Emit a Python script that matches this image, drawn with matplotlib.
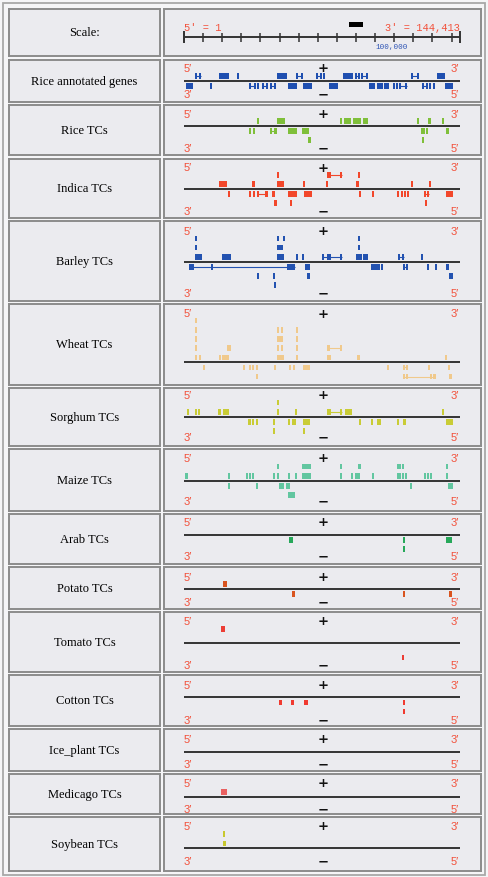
import matplotlib
matplotlib.use("Agg")
import matplotlib.pyplot as plt
from matplotlib.patches import Rectangle
import numpy as np

# genome span (kb) and scale
genome_kb = 144.413
scale_ticks = np.arange(0, 150, 10)
scale_bar = (86.3, 93.8)

# feature lists: (strand level, start kb, end kb); links are intron lines
rice_genes = [
    (1, 5.8, 6.4), (1, 8.0, 8.7), (1, 18.1, 23.7), (1, 27.6, 28.3), (1, 48.8, 54.1),
    (1, 58.6, 59.2), (1, 61.0, 61.6), (1, 68.9, 69.4), (1, 71.0, 71.5), (1, 72.6, 73.1),
    (1, 83.4, 88.6), (1, 89.3, 90.0), (1, 91.2, 91.7), (1, 92.8, 93.5), (1, 95.0, 95.7),
    (1, 118.6, 119.3), (1, 121.9, 122.6), (1, 132.5, 136.7),
    (-1, 1.0, 4.9), (-1, 13.6, 14.1), (-1, 34.2, 34.9), (-1, 36.6, 37.3), (-1, 38.4, 39.1),
    (-1, 40.8, 41.5), (-1, 42.9, 43.4), (-1, 45.0, 45.5), (-1, 47.1, 47.8), (-1, 54.6, 58.9),
    (-1, 62.4, 66.8), (-1, 76.0, 80.7), (-1, 96.8, 99.9), (-1, 100.8, 103.9), (-1, 104.6, 107.1),
    (-1, 109.5, 110.0), (-1, 110.9, 111.4), (-1, 112.7, 113.4), (-1, 115.6, 116.5),
    (-1, 124.3, 125.0), (-1, 126.4, 127.1), (-1, 128.4, 129.1), (-1, 130.1, 131.1), (-1, 136.6, 140.6),
]
rice_genes_links = [
    (1, 5.8, 8.7), (1, 58.6, 61.6), (1, 68.9, 71.5), (1, 89.3, 91.7), (1, 92.8, 95.7),
    (1, 118.6, 122.6), (-1, 34.2, 37.3), (-1, 40.8, 43.4), (-1, 45.0, 47.8),
    (-1, 112.7, 116.5), (-1, 124.3, 127.1),
]

rice_tcs = [
    (1, 38.0, 38.7), (1, 48.8, 52.7), (1, 81.6, 82.5), (1, 83.9, 87.2), (1, 88.6, 92.6),
    (1, 93.5, 96.4), (1, 121.7, 122.4), (1, 127.8, 129.2), (1, 134.8, 135.5),
    (-1, 34.0, 34.7), (-1, 36.3, 37.0), (-1, 45.0, 45.7), (-1, 47.3, 48.0), (-1, 54.4, 58.9),
    (-1, 61.6, 65.4), (-1, 123.8, 124.5), (-1, 125.2, 125.9), (-1, 126.8, 127.5), (-1, 136.9, 138.5),
    (-2, 64.7, 66.3), (-2, 124.3, 125.0),
]
rice_tcs_links = [(-1, 45.0, 48.0)]

indica_tcs = [
    (2, 48.5, 49.2), (2, 74.6, 76.7), (2, 81.6, 82.5), (2, 90.9, 92.1),
    (1, 18.1, 22.3), (1, 35.8, 36.4), (1, 48.5, 52.5), (1, 62.1, 62.8), (1, 74.1, 74.8),
    (1, 90.0, 91.4), (1, 118.6, 119.3), (1, 128.4, 129.1),
    (-1, 23.0, 23.7), (-1, 34.0, 34.7), (-1, 35.9, 37.0), (-1, 38.4, 39.1), (-1, 42.6, 43.3),
    (-1, 45.9, 47.6), (-1, 54.6, 58.9), (-1, 62.8, 67.0), (-1, 91.6, 92.3), (-1, 98.4, 99.4),
    (-1, 111.6, 112.3), (-1, 113.4, 114.1), (-1, 115.1, 115.8), (-1, 116.5, 117.2),
    (-1, 125.6, 126.3), (-1, 127.3, 128.0), (-1, 136.9, 140.9),
    (-2, 47.3, 48.0), (-2, 55.5, 56.2), (-2, 126.3, 127.0),
]
indica_tcs_links = [(2, 74.6, 82.5), (-1, 38.4, 43.3), (-1, 125.6, 128.0)]

barley_tcs = [
    (3, 5.8, 6.5), (3, 48.5, 49.2), (3, 51.6, 52.3), (3, 91.2, 91.9),
    (2, 5.8, 6.5), (2, 48.5, 52.0), (2, 91.2, 91.9),
    (1, 5.8, 9.2), (1, 19.9, 24.6), (1, 48.5, 52.3), (1, 58.4, 59.1), (1, 61.9, 62.6),
    (1, 72.4, 73.1), (1, 75.0, 76.7), (1, 81.6, 82.5), (1, 89.8, 93.0), (1, 93.8, 96.4),
    (1, 112.0, 112.7), (1, 114.1, 114.9), (1, 124.2, 124.9),
    (-1, 2.4, 5.4), (-1, 14.0, 14.6), (-1, 53.7, 58.1), (-1, 63.3, 65.9), (-1, 97.8, 102.5),
    (-1, 103.1, 103.6), (-1, 114.4, 115.1), (-1, 116.2, 116.8), (-1, 127.0, 127.7),
    (-1, 131.5, 132.2), (-1, 136.9, 138.5),
    (-2, 38.0, 38.7), (-2, 46.7, 47.4), (-2, 64.2, 65.9), (-2, 138.5, 140.9),
    (-3, 47.1, 47.8),
]
barley_tcs_links = [(1, 72.4, 82.5), (1, 112.0, 114.9), (-1, 2.4, 58.1), (-1, 114.4, 116.8)]

wheat_tcs = [
    (5, 5.9, 6.5),
    (4, 5.9, 6.5), (4, 48.8, 49.5), (4, 50.8, 51.6), (4, 58.8, 59.3),
    (3, 5.9, 6.5), (3, 48.8, 52.0), (3, 58.8, 59.3),
    (2, 5.9, 6.5), (2, 22.3, 24.8), (2, 48.8, 49.5), (2, 50.9, 52.0), (2, 58.8, 59.3),
    (2, 75.0, 76.4), (2, 81.6, 82.3),
    (1, 5.9, 6.5), (1, 8.0, 8.7), (1, 18.1, 18.8), (1, 19.9, 23.5), (1, 48.8, 52.3),
    (1, 58.8, 59.6), (1, 75.0, 76.7), (1, 90.3, 92.1), (1, 136.6, 137.1),
    (-1, 10.1, 10.8), (-1, 31.0, 31.7), (-1, 33.8, 34.5), (-1, 35.6, 36.3), (-1, 37.5, 38.2),
    (-1, 47.1, 47.8), (-1, 54.8, 55.5), (-1, 56.9, 58.1), (-1, 62.4, 65.9), (-1, 106.0, 106.7),
    (-1, 114.4, 115.1), (-1, 116.2, 116.8), (-1, 127.5, 128.2), (-1, 138.3, 139.0),
    (-2, 37.8, 38.5), (-2, 114.4, 115.1), (-2, 116.2, 116.8), (-2, 128.7, 129.4),
    (-2, 130.5, 131.1), (-2, 138.5, 140.0),
]
wheat_tcs_links = [(2, 75.0, 82.3), (-1, 114.4, 116.8), (-2, 114.4, 131.1)]

sorghum_tcs = [
    (2, 48.5, 49.0),
    (1, 1.7, 2.3), (1, 5.6, 6.1), (1, 7.5, 8.2), (1, 18.0, 18.7), (1, 20.6, 23.4),
    (1, 48.5, 49.0), (1, 58.2, 58.8), (1, 74.6, 76.7), (1, 81.6, 82.5), (1, 84.2, 87.7),
    (1, 135.0, 135.7),
    (-1, 33.7, 34.5), (-1, 35.6, 36.4), (-1, 37.5, 38.5), (-1, 46.7, 47.3), (-1, 54.4, 55.1),
    (-1, 56.3, 58.4), (-1, 62.4, 65.9), (-1, 91.4, 92.1), (-1, 97.8, 99.1), (-1, 101.2, 102.9),
    (-1, 111.3, 112.1), (-1, 114.8, 116.2), (-1, 137.1, 140.6),
    (-2, 46.4, 47.1), (-2, 62.4, 63.1),
]
sorghum_tcs_links = [(1, 74.6, 82.5)]

maize_tcs = [
    (2, 48.5, 49.0), (2, 61.6, 66.3), (2, 81.6, 82.1), (2, 91.0, 92.4), (2, 111.3, 111.8),
    (2, 112.7, 113.2), (2, 114.2, 114.9), (2, 136.9, 137.4),
    (1, 0.5, 2.3), (1, 22.8, 23.4), (1, 32.4, 33.1), (1, 34.0, 34.7), (1, 35.6, 36.3),
    (1, 46.4, 46.9), (1, 48.5, 49.0), (1, 54.6, 55.3), (1, 58.2, 58.8), (1, 61.6, 66.3),
    (1, 81.6, 82.1), (1, 87.2, 88.2), (1, 89.5, 92.1), (1, 98.2, 98.7), (1, 111.3, 112.0),
    (1, 112.7, 113.4), (1, 114.1, 114.8), (1, 115.5, 116.5), (1, 125.7, 126.4),
    (1, 127.3, 128.0), (1, 128.9, 129.4), (1, 136.9, 137.4),
    (-1, 22.8, 23.4), (-1, 37.7, 38.4), (-1, 49.9, 52.3), (-1, 53.2, 53.7), (-1, 54.6, 55.3),
    (-1, 118.2, 118.8), (-1, 138.3, 140.6),
    (-2, 54.4, 58.1),
]

arab_tcs = [(-1, 54.8, 57.2), (-1, 114.4, 115.1), (-1, 137.1, 140.0), (-2, 114.4, 115.1)]
potato_tcs = [(1, 20.6, 22.3), (-1, 56.3, 58.1), (-1, 114.4, 115.1), (-1, 138.6, 140.0)]
tomato_tcs = [(2, 19.2, 21.5), (-2, 114.2, 115.1)]
cotton_tcs = [(-1, 49.9, 51.1), (-1, 55.8, 57.4), (-1, 63.0, 65.1), (-1, 114.4, 115.5),
              (-2, 114.4, 115.5)]
ice_plant_tcs = []
medicago_tcs = [(1, 19.5, 22.3)]
soybean_tcs = [(1, 20.6, 22.0), (2, 20.6, 21.3)]

track_names = ["Rice annotated genes", "Rice TCs", "Indica TCs", "Barley TCs", "Wheat TCs",
               "Sorghum TCs", "Maize TCs", "Arab TCs", "Potato TCs", "Tomato TCs",
               "Cotton TCs", "Ice_plant TCs", "Medicago TCs", "Soybean TCs"]
track_feats = [rice_genes, rice_tcs, indica_tcs, barley_tcs, wheat_tcs, sorghum_tcs,
               maize_tcs, arab_tcs, potato_tcs, tomato_tcs, cotton_tcs, ice_plant_tcs,
               medicago_tcs, soybean_tcs]
track_links = [rice_genes_links, rice_tcs_links, indica_tcs_links, barley_tcs_links,
               wheat_tcs_links, sorghum_tcs_links, [], [], [], [], [], [], [], []]
track_colors = ["#1f4fb0", "#7fbf3a", "#f2472b", "#2352b0", "#f0c98c", "#c9cc36",
                "#62c6a0", "#27a85a", "#d9541f", "#ec3d35", "#f03a30", "#f03a30",
                "#e96060", "#c8c82e"]

# layout (pixels): cell top, cell bottom, axis line, top labels, bottom labels
cell_top = [61, 106, 160, 222, 305, 389, 450, 515, 568, 613, 676, 730, 775, 818]
cell_bot = [103, 156, 219, 302, 386, 447, 512, 565, 610, 673, 727, 772, 815, 872]
line_y = [81.7, 126.7, 190, 262.7, 363.3, 417.7, 481.7, 535.7, 590, 644.3, 698.3, 752.7, 797.7, 849.3]
lab_top = [69, 115, 168, 232, 314, 396, 459, 523, 578, 622, 686, 740, 784, 827]
lab_bot = [95, 149, 212, 294, None, 438, 502, 557, 603, 666, 721, 765, 810, 862]

W, H = 488, 878
PX_PER_KB = 276 / genome_kb
X0_PX, LEFT_X, RIGHT_X = 184, 164, 481
CELL_BG = "#ebebef"
EDGE = "#8c8c8c"
RED = "#f2503a"

fig = plt.figure(figsize=(W / 100, H / 100), dpi=100, facecolor="#f5f5f7")


def px_axes(x0, y0, x1, y1):
    ax = fig.add_axes([x0 / W, 1 - y1 / H, (x1 - x0) / W, (y1 - y0) / H])
    ax.set_facecolor(CELL_BG)
    ax.set_xticks([])
    ax.set_yticks([])
    for s in ax.spines.values():
        s.set_color(EDGE)
        s.set_linewidth(1.4)
    return ax


def label_cell(top, bot, text):
    ax = px_axes(9, top, 160, bot)
    ax.set_xlim(0, 1)
    ax.set_ylim(0, 1)
    ax.text(0.5, 0.5, text, ha="center", va="center", fontsize=9,
            family=["Liberation Serif", "DejaVu Serif"])


def track_cell(top, bot, ly):
    ax = px_axes(LEFT_X, top, RIGHT_X, bot)
    ax.set_xlim((LEFT_X - X0_PX) / PX_PER_KB, (RIGHT_X - X0_PX) / PX_PER_KB)
    ax.set_ylim(-(bot - ly), ly - top)
    return ax


def level_y(k):
    return np.sign(k) * (5 + (np.abs(k) - 1) * 9.2)


prime_font = dict(fontsize=8, color=RED, family=["Liberation Sans", "DejaVu Sans"])
sign_font = dict(fontsize=9.5, color="#111111", fontweight="bold", ha="center", va="center")

# scale row
label_cell(10, 57, "Scale:")
ax = track_cell(10, 57, 38.3)
ax.plot([0, genome_kb], [0, 0], color="#333333", lw=1.4, solid_capstyle="butt")
ax.vlines(scale_ticks, -4.7, 4.7, color="#333333", lw=1.1)
ax.vlines([0, genome_kb], -6, 6, color="#333333", lw=1.4)
ax.bar(scale_bar[0], 5, width=scale_bar[1] - scale_bar[0], bottom=10, align="edge",
       color="black", lw=0)
mono = ["Liberation Mono", "DejaVu Sans Mono"]
ax.text(0, 10.3, "5′ = 1", color=RED, fontsize=7.5, family=mono, ha="left", va="center")
ax.text(genome_kb, 10.3, "3′ = 144,413", color=RED, fontsize=7.5, family=mono,
        ha="right", va="center")
ax.text(100, -9.7, "100,000", color="#2f55b5", fontsize=5.5, family=mono,
        ha="left", va="center")

# feature tracks
for i, name in enumerate(track_names):
    label_cell(cell_top[i], cell_bot[i], name)
    ly = line_y[i]
    ax = track_cell(cell_top[i], cell_bot[i], ly)
    ax.plot([0, genome_kb], [0, 0], color="#333333", lw=1.4, solid_capstyle="butt", zorder=3)
    c = track_colors[i]
    for lev, s, e in track_links[i]:
        ax.hlines(level_y(lev), s, e, color=c, lw=0.8)
    feats = track_feats[i]
    if feats:
        lev = np.array([f[0] for f in feats])
        st = np.array([f[1] for f in feats])
        wd = np.maximum(np.array([f[2] for f in feats]) - st, 1.1)
        ax.bar(st, 5.6, width=wd, bottom=level_y(lev) - 2.8, align="edge", color=c, lw=0)
    ty = ly - lab_top[i]
    ax.text(2.1, ty, "5′", ha="center", va="center", **prime_font)
    ax.text(141.8, ty, "3′", ha="center", va="center", **prime_font)
    ax.text(73, ty, "+", **sign_font)
    if lab_bot[i] is not None:
        by = ly - lab_bot[i]
        ax.text(2.1, by, "3′", ha="center", va="center", **prime_font)
        ax.text(141.8, by, "5′", ha="center", va="center", **prime_font)
        ax.text(73, by, "−", **sign_font)

fig.add_artist(Rectangle((3 / W, 1 - 876 / H), 482 / W, 872 / H, transform=fig.transFigure,
                         fill=False, ec="#a8a8a8", lw=1.3))

fig.savefig("out.png", dpi=100, facecolor=fig.get_facecolor())
